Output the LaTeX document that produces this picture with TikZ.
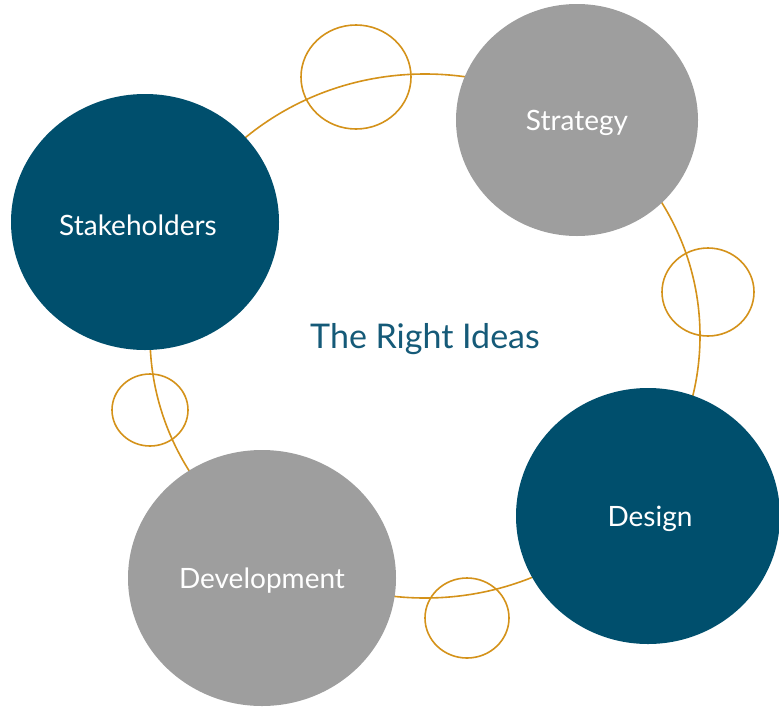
\documentclass[tikz,border=0pt]{standalone}
\usepackage{fontspec}
\setmainfont{Lato}
\usetikzlibrary{shapes.geometric}
\definecolor{deepblue}{HTML}{004F6D}
\definecolor{stone}{HTML}{9E9E9E}
\definecolor{gold}{HTML}{D4921A}
\definecolor{titleblue}{HTML}{155A78}
\begin{document}
\begin{tikzpicture}[x=1pt,y=-1pt,
  ring/.style={draw=gold,line width=1.6pt,fill=none},
  bubble/.style={ellipse,inner sep=0pt,text=white,font=\fontsize{28}{32}\selectfont},
  bluebubble/.style={bubble,fill=deepblue},
  graybubble/.style={bubble,fill=stone},
  caption/.style={text=white,font=\fontsize{28}{32}\selectfont}]
\useasboundingbox (0,0) rectangle (779,710);
% orbit behind the bubbles
\node[ellipse,draw=gold,line width=1.6pt,minimum width=550pt,minimum height=524pt,inner sep=0pt] (orbit) at (425,336) {};
% main bubbles
\node[bluebubble,minimum width=268pt,minimum height=256pt] (stake) at (145,222) {};
\node[graybubble,minimum width=242pt,minimum height=232pt] (strat) at (577,120) {};
\node[bluebubble,minimum width=264pt,minimum height=256pt] (design) at (648,516) {};
\node[graybubble,minimum width=268pt,minimum height=256pt] (dev) at (262,578) {};
% bubble captions
\node[caption] at ([xshift=-7pt,yshift=-3pt]stake.center) {Stakeholders};
\node[caption] at ([yshift=-3pt]strat.center) {Strategy};
\node[caption] at ([xshift=2pt,yshift=-3pt]design.center) {Design};
\node[caption] at ([yshift=-3pt]dev.center) {Development};
% small rings on the orbit
\node[ellipse,ring,minimum width=110pt,minimum height=104pt,inner sep=0pt] (r1) at (356,77) {};
\node[ellipse,ring,minimum width=92pt,minimum height=88pt,inner sep=0pt] (r2) at (708,292) {};
\node[ellipse,ring,minimum width=84pt,minimum height=80pt,inner sep=0pt] (r3) at (467,618) {};
\node[ellipse,ring,minimum width=76pt,minimum height=72pt,inner sep=0pt] (r4) at (150,410) {};
% title
\node[text=titleblue,font=\fontsize{34}{38}\selectfont] (title) at (425,339) {The Right Ideas};
\end{tikzpicture}
\end{document}
